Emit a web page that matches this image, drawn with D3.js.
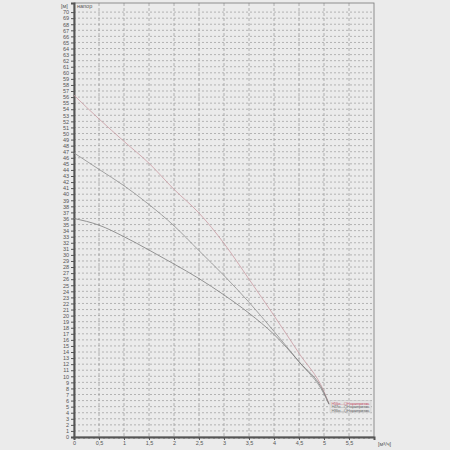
<!DOCTYPE html>
<html>
<head>
<meta charset="utf-8">
<script src="https://cdn.jsdelivr.net/npm/d3@7"></script>
<style>
  html, body { margin:0; padding:0; background:#ebebeb; }
  svg { display:block; }
</style>
</head>
<body>
<script>
// flow, m3/h
const flow  = [0, 0.5, 1, 1.5, 2, 2.5, 3, 3.5, 4, 4.5, 5, 5.1];
// head curves, m
const head1 = [56.3, 52.4, 48.7, 45.1, 40.8, 36.9, 31.9, 26.0, 20.0, 13.8, 7.5, 5.5];
const head2 = [46.8, 44.1, 41.4, 38.3, 34.8, 30.7, 26.6, 22.2, 17.4, 12.4, 7.1, 5.4];
const head3 = [36.0, 34.9, 33.0, 30.8, 28.5, 26.1, 23.4, 20.4, 16.9, 12.4, 7.3, 5.4];
const seriesNames = ["H 56", "H 47", "H 36"];
const xTicks = [0, 0.5, 1, 1.5, 2, 2.5, 3, 3.5, 4, 4.5, 5, 5.5];
const yTicks = d3.range(0, 71);

const margin = {top:3, right:76, bottom:13, left:74},
      W = 450, H = 450,
      width  = W - margin.left - margin.right,
      height = H - margin.top - margin.bottom;

const svg = d3.select("body").append("svg")
      .attr("width", W).attr("height", H)
      .style("font-family", "'Liberation Sans', Arial, sans-serif");

const chart = svg.append("g")
      .attr("transform", "translate(" + margin.left + "," + margin.top + ")");

const x = d3.scaleLinear().domain([0, 6]).range([0, width]);
const y = d3.scaleLinear().domain([0, 71.5]).range([height, 0]);

// grid
chart.append("g").selectAll("line.hg")
    .data(yTicks.filter(d => d > 0))
    .enter().append("line")
    .attr("x1", 0).attr("x2", width)
    .attr("y1", d => y(d)).attr("y2", d => y(d))
    .attr("stroke", "#a4a4a4").attr("stroke-width", 0.8)
    .attr("stroke-dasharray", "2,2");

chart.append("g").selectAll("line.vg")
    .data(xTicks.filter(d => d > 0))
    .enter().append("line")
    .attr("x1", d => x(d)).attr("x2", d => x(d))
    .attr("y1", 0).attr("y2", height)
    .attr("stroke", "#a0a0a0").attr("stroke-width", 0.8)
    .attr("stroke-dasharray", "3,2");

// frame
chart.append("rect")
    .attr("width", width).attr("height", height)
    .attr("fill", "none").attr("stroke", "#777").attr("stroke-width", 0.8);

// y axis
const yAxis = chart.append("g")
    .call(d3.axisLeft(y).tickValues(yTicks).tickSize(3).tickFormat(d3.format("d")));
yAxis.select(".domain").attr("stroke", "#555").attr("stroke-width", 2);
yAxis.selectAll(".tick line").attr("stroke", "#555");
yAxis.selectAll("text").attr("font-size", "5.5px").attr("fill", "#555").attr("dx", "1");

// x axis
const xAxis = chart.append("g")
    .attr("transform", "translate(0," + height + ")")
    .call(d3.axisBottom(x).tickValues(xTicks).tickSize(3)
        .tickFormat(d => String(d).replace(".", ",")));
xAxis.select(".domain").attr("stroke", "#555").attr("stroke-width", 2);
xAxis.selectAll(".tick line").attr("stroke", "#555");
xAxis.selectAll("text").attr("font-size", "5.5px").attr("fill", "#555").attr("dy", "0.3em");

// minor x ticks
chart.append("g").selectAll("line.mt")
    .data(d3.range(0, 60).map(d => d / 10))
    .enter().append("line")
    .attr("x1", d => x(d)).attr("x2", d => x(d))
    .attr("y1", height).attr("y2", height + 2)
    .attr("stroke", "#555").attr("stroke-width", 0.7);

// axis captions
svg.append("text").attr("x", 61).attr("y", 8)
    .attr("font-size", "5.5px").attr("fill", "#555").text("[м]");
svg.append("text").attr("x", 77).attr("y", 8)
    .attr("font-size", "5.5px").attr("fill", "#555").text("напор");
svg.append("text").attr("x", margin.left + width + 4).attr("y", 446)
    .attr("font-size", "5.5px").attr("fill", "#555").text("[м³/ч]");

// curves
const line = d3.line().curve(d3.curveMonotoneX)
    .x(d => x(d[0])).y(d => y(d[1]));
const curves = [
  {name: seriesNames[0], vals: head1, color: "#c99aa2"},
  {name: seriesNames[1], vals: head2, color: "#8e8e8e"},
  {name: seriesNames[2], vals: head3, color: "#7c7c7c"}
];
chart.selectAll("path.curve")
    .data(curves)
    .enter().append("path")
    .attr("class", "curve")
    .attr("d", c => line(flow.map((f, i) => [f, c.vals[i]])))
    .attr("fill", "none")
    .attr("stroke", c => c.color)
    .attr("stroke-width", 0.8);

// small labels at curve ends
const last = flow.length - 1;
const lab = chart.append("g")
    .attr("transform", "translate(" + (x(flow[last]) + 1) + "," + (y(head1[last]) - 3) + ")");
lab.append("rect")
    .attr("x", 0).attr("y", 0).attr("width", 41).attr("height", 12)
    .attr("fill", "#e4e4e4").attr("stroke", "#bbb").attr("stroke-width", 0.4);
lab.selectAll("text")
    .data(curves)
    .enter().append("text")
    .attr("x", 1.5).attr("y", (d, i) => 4 + i * 3.8)
    .attr("font-size", "4.3px")
    .attr("textLength", 38)
    .attr("fill", (d, i) => i === 0 ? "#c86c7c" : "#7a7a7a")
    .text(d => d.name + " м — Q-H характеристика");
</script>
</body>
</html>
